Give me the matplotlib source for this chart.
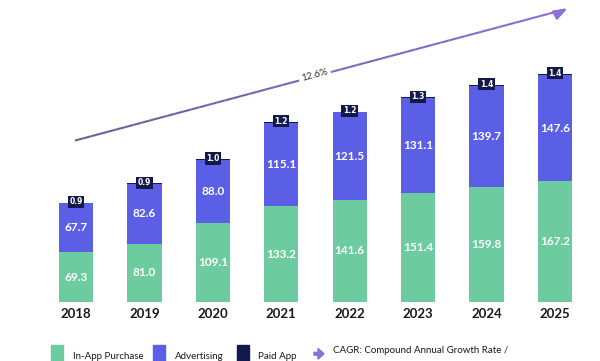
import matplotlib.pyplot as plt
from matplotlib.patches import Rectangle, FancyArrow
from matplotlib.collections import LineCollection
import matplotlib.colors as mcolors
import numpy as np

plt.rcParams['font.family'] = ['Lato', 'DejaVu Sans']

# Data (billions)
years = ['2018', '2019', '2020', '2021', '2022', '2023', '2024', '2025']
in_app = [69.3, 81.0, 109.1, 133.2, 141.6, 151.4, 159.8, 167.2]
advertising = [67.7, 82.6, 88.0, 115.1, 121.5, 131.1, 139.7, 147.6]
paid_app = [0.9, 0.9, 1.0, 1.2, 1.2, 1.3, 1.4, 1.4]
cagr_label = '12.6%'

green = '#6ccb9f'
blue = '#5b5fe6'
navy = '#111a4b'
arrow_start_col = '#6b5f96'
arrow_col = '#8b70d8'

fig = plt.figure(figsize=(6, 3.61), dpi=100)
ax = fig.add_axes([0.0697, 0.1634, 0.912, 0.8366])

x = np.arange(len(years))
w = 0.5
ax.bar(x, in_app, w, color=green)
ax.bar(x, advertising, w, bottom=in_app, color=blue)
tops = np.array(in_app) + np.array(advertising)
ax.bar(x, paid_app, w, bottom=tops, color=navy)

for i in range(len(years)):
    ax.text(x[i], in_app[i] / 2, f'{in_app[i]:.1f}', ha='center', va='center',
            color='white', fontsize=8.5, fontweight='bold')
    ax.text(x[i], in_app[i] + advertising[i] / 2, f'{advertising[i]:.1f}', ha='center',
            va='center', color='white', fontsize=8.5, fontweight='bold')
    ax.text(x[i], tops[i] + paid_app[i] + 1, f'{paid_app[i]:.1f}', ha='center', va='center',
            color='white', fontsize=5.5, fontweight='bold', family='DejaVu Sans',
            bbox=dict(boxstyle='square,pad=0.2', fc=navy, ec='none'))
    ax.text(x[i], -8, years[i], ha='center', va='top', color='#1a1a1a',
            fontsize=9.5, fontweight='bold')

# CAGR arrow, colour fading from grey-purple to purple
x0, y0, x1, y1 = -0.015, 224, 7.15, 406
t = np.linspace(0, 1, 60)
px = x0 + (x1 - x0) * t
py = y0 + (y1 - y0) * t
segs = np.stack([np.column_stack([px[:-1], py[:-1]]), np.column_stack([px[1:], py[1:]])], axis=1)
c0 = np.array(mcolors.to_rgb(arrow_start_col))
c1 = np.array(mcolors.to_rgb(arrow_col))
cols = [c0 + (c1 - c0) * v for v in t[:-1]]
ax.add_collection(LineCollection(segs, colors=cols, linewidths=1.5))
ax.annotate('', xy=(7.22, 409), xytext=(7.0, 398),
            arrowprops=dict(arrowstyle='-|>,head_length=0.8,head_width=0.3',
                            color=arrow_col, lw=1.5))
ax.text(3.49, 315, cagr_label, ha='center', va='center', rotation=14.8,
        fontsize=7, color='#333333',
        bbox=dict(boxstyle='square,pad=0.3', fc='white', ec='none'))

ax.set_xlim(-0.5, 7.5)
ax.set_ylim(0, 419)
ax.axis('off')

# Legend at the bottom (cut by the figure edge)
items = [(51, green, 73, 'In-App Purchase'), (153, blue, 175, 'Advertising'),
         (237, navy, 258, 'Paid App')]
for lx, col, tx, label in items:
    fig.patches.append(Rectangle((lx / 600, -0.03), 12 / 600, 0.075,
                                 transform=fig.transFigure, color=col))
    fig.text(tx / 600, 0.013, label, fontsize=7, color='#1a1a1a', va='center')
fig.patches.append(FancyArrow(314 / 600, 0.02, 10 / 600, 0, width=0.008,
                              head_width=0.03, head_length=6 / 600,
                              transform=fig.transFigure, color=arrow_col,
                              length_includes_head=True))
fig.text(333 / 600, 0.03, 'CAGR: Compound Annual Growth Rate /', fontsize=7,
         color='#1a1a1a', va='center')

fig.savefig('out.png', dpi=100)
